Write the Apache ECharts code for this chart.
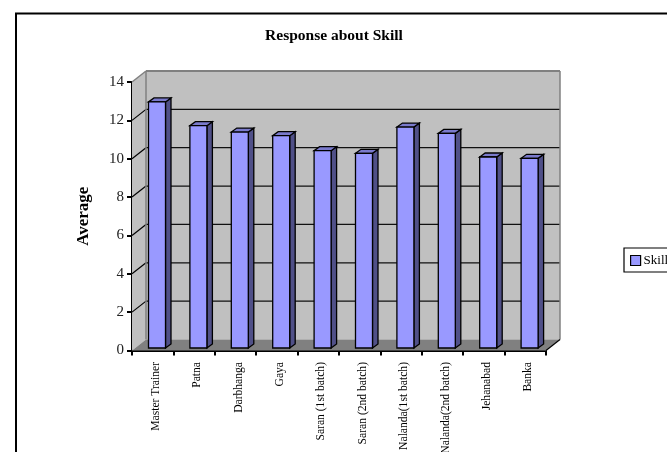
<!DOCTYPE html>
<html>
<head>
<meta charset="utf-8">
<style>html,body{margin:0;padding:0;background:#fff}#chart{width:667px;height:452px}</style>
<script src="https://cdn.jsdelivr.net/npm/echarts@6/dist/echarts.min.js"></script>
</head>
<body>
<div id="chart"></div>
<script>
// Average skill response per training group
const categories = ['Master Trainer', 'Patna', 'Darbhanga', 'Gaya', 'Saran (1st batch)', 'Saran (2nd batch)', 'Nalanda(1st batch)', 'Nalanda(2nd batch)', 'Jehanabad', 'Banka'];
const skillValues = [12.83, 11.59, 11.26, 11.07, 10.29, 10.15, 11.52, 11.19, 9.96, 9.89];
const yTicks = [0, 2, 4, 6, 8, 10, 12, 14];

// Oblique projection used for the box and the bars
const DEPTH_X = 14, DEPTH_Y = 11;
const BAR_W = 17, BAR_SHIFT = 4.3, BAR_LIFT = 2.5, BAR_DX = 5.5, BAR_DY = 4;
const SERIF = '"Liberation Serif", "Times New Roman", serif';

const poly = (points, fill, stroke, lineWidth) => ({
  type: 'polygon',
  shape: { points },
  style: { fill, stroke: stroke || null, lineWidth: lineWidth || 0 }
});
const seg = (x1, y1, x2, y2, stroke, lineWidth) => ({
  type: 'line',
  shape: { x1, y1, x2, y2 },
  style: { stroke, lineWidth }
});

// Back wall, side wall, floor and the gridlines wrapping across them
function renderBox(params, api) {
  if (params.dataIndex !== 0) return null;
  const last = categories.length - 1;
  const half = api.size([1, 0])[0] / 2;
  const yMax = yTicks[yTicks.length - 1];
  const left = api.coord([0, 0])[0] - half;
  const right = api.coord([last, 0])[0] + half;
  const y0 = api.coord([0, 0])[1];
  const yTop = api.coord([0, yMax])[1];
  const children = [
    poly([[left, y0], [left + DEPTH_X, y0 - DEPTH_Y], [left + DEPTH_X, yTop - DEPTH_Y], [left, yTop]], '#c0c0c0'),
    poly([[left + DEPTH_X, y0 - DEPTH_Y], [right + DEPTH_X, y0 - DEPTH_Y], [right + DEPTH_X, yTop - DEPTH_Y], [left + DEPTH_X, yTop - DEPTH_Y]], '#c0c0c0'),
    poly([[left, y0], [right, y0], [right + DEPTH_X, y0 - DEPTH_Y], [left + DEPTH_X, y0 - DEPTH_Y]], '#808080')
  ];
  yTicks.forEach(t => {
    const y = api.coord([0, t])[1];
    if (t > 0 && t < yMax) {
      children.push(seg(left, y, left + DEPTH_X, y - DEPTH_Y, '#000', 1.2));
      children.push(seg(left + DEPTH_X, y - DEPTH_Y, right + DEPTH_X, y - DEPTH_Y, '#111', 1.2));
    }
  });
  children.push(seg(left, yTop, left + DEPTH_X, yTop - DEPTH_Y, '#808080', 1.5));
  children.push(seg(left + DEPTH_X, yTop - DEPTH_Y, right + DEPTH_X, yTop - DEPTH_Y, '#808080', 2));
  children.push(seg(left + DEPTH_X, y0 - DEPTH_Y, left + DEPTH_X, yTop - DEPTH_Y, '#808080', 1.5));
  children.push(seg(right + DEPTH_X, y0 - DEPTH_Y, right + DEPTH_X, yTop - DEPTH_Y, '#808080', 1.5));
  children.push(seg(right, y0, right + DEPTH_X, y0 - DEPTH_Y, '#000', 1.2));
  return { type: 'group', children };
}

// One oblique bar: front face, right side and top
function renderBar(params, api) {
  const top = api.coord([api.value(0), api.value(1)]);
  const base = api.coord([api.value(0), 0]);
  const x1 = top[0] + BAR_SHIFT - BAR_W / 2;
  const x2 = x1 + BAR_W;
  const yT = top[1] - BAR_LIFT;
  const yB = base[1] - BAR_LIFT;
  const line = { stroke: '#000', width: 1.3 };
  return {
    type: 'group',
    children: [
      poly([[x2, yB], [x2 + BAR_DX, yB - BAR_DY], [x2 + BAR_DX, yT - BAR_DY], [x2, yT]], '#505088', line.stroke, line.width),
      poly([[x1, yT], [x2, yT], [x2 + BAR_DX, yT - BAR_DY], [x1 + BAR_DX, yT - BAR_DY]], '#7a7acc', line.stroke, line.width),
      poly([[x1, yB], [x2, yB], [x2, yT], [x1, yT]], '#9999ff', line.stroke, line.width)
    ]
  };
}

const chart = echarts.init(document.getElementById('chart'), null, { renderer: 'canvas' });
chart.setOption({
  backgroundColor: '#ffffff',
  animation: false,
  textStyle: { fontFamily: SERIF, color: '#000' },
  title: {
    text: 'Response about Skill',
    left: 334, top: 28, textAlign: 'center', padding: 0,
    textStyle: { fontFamily: SERIF, fontSize: 15.5, fontWeight: 'bold', color: '#000' }
  },
  legend: {
    data: ['Skill'],
    left: 624, top: 248, orient: 'vertical',
    padding: [6, 5, 5, 6],
    itemWidth: 10, itemHeight: 10, itemGap: 0,
    icon: 'rect',
    borderColor: '#000', borderWidth: 1.2,
    itemStyle: { color: '#9999ff', borderColor: '#000', borderWidth: 1.2 },
    textStyle: { fontFamily: SERIF, fontSize: 13, color: '#000', padding: [0, 0, 0, -2] }
  },
  grid: { left: 132, top: 82, width: 414, height: 268.5, containLabel: false, outerBoundsMode: 'none' },
  xAxis: {
    type: 'category',
    data: categories,
    axisLine: { lineStyle: { color: '#000', width: 2 } },
    axisTick: { show: true, length: 5, lineStyle: { color: '#000', width: 2 } },
    axisLabel: { rotate: 90, interval: 0, margin: 11.5, verticalAlign: 'top', lineHeight: 6, fontFamily: SERIF, fontSize: 11.6, color: '#000', hideOverlap: false },
    splitLine: { show: false }
  },
  yAxis: {
    type: 'value',
    min: 0, max: 14, interval: 2,
    name: 'Average',
    nameLocation: 'middle', nameRotate: 90, nameGap: 40,
    nameTextStyle: { fontFamily: SERIF, fontSize: 17, fontWeight: 'bold', color: '#000' },
    axisLine: { show: true, lineStyle: { color: '#000', width: 2 } },
    axisTick: { show: true, length: 5, lineStyle: { color: '#000', width: 2 } },
    axisLabel: { margin: 8, fontFamily: SERIF, fontSize: 15, color: '#222' },
    splitLine: { show: false }
  },
  graphic: [{
    type: 'polyline',
    shape: { points: [[16, 452], [16, 13.5], [667, 13.5]] },
    style: { stroke: '#000', lineWidth: 2, fill: null },
    silent: true
  }],
  series: [
    {
      type: 'custom', name: 'Box', silent: true, z: 1,
      renderItem: renderBox,
      data: yTicks
    },
    {
      type: 'custom', name: 'Skill', z: 3,
      renderItem: renderBar,
      encode: { x: 0, y: 1 },
      itemStyle: { color: '#9999ff', borderColor: '#000', borderWidth: 1.2 },
      data: skillValues.map((v, i) => [i, v])
    }
  ]
});
</script>
</body>
</html>
